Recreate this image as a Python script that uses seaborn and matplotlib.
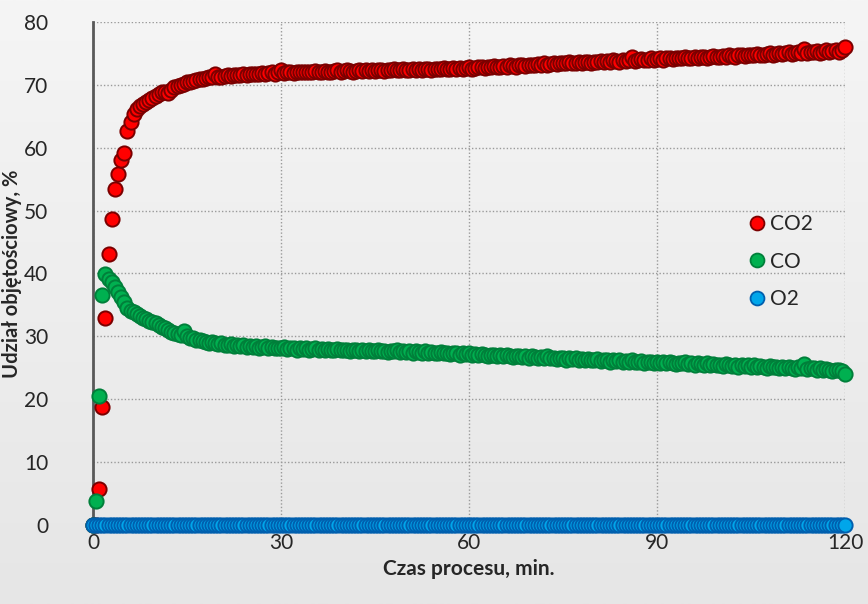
import numpy as np
import pandas as pd
import matplotlib.pyplot as plt
import seaborn as sns
from matplotlib.colors import LinearSegmentedColormap
from matplotlib.lines import Line2D

sns.set_style("white")
plt.rcParams['font.family'] = ['Lato', 'DejaVu Sans']

# czas pomiaru co 0.5 min
time_min = np.arange(0, 120.5, 0.5)

co2 = [
    0.0, 0.0, 5.7, 18.8, 33.0, 43.1, 48.6, 53.4, 55.8, 58.0,
    59.2, 62.6, 64.1, 65.4, 66.1, 66.6, 67.0, 67.3, 67.6, 67.9,
    68.2, 68.5, 68.9, 68.8, 68.7, 69.2, 69.6, 69.8, 70.0, 70.2,
    70.4, 70.5, 70.6, 70.8, 70.9, 71.0, 71.1, 71.2, 71.2, 71.7,
    71.3, 71.3, 71.4, 71.5, 71.4, 71.6, 71.5, 71.6, 71.7, 71.6,
    71.7, 71.8, 71.7, 71.8, 71.9, 71.8, 71.9, 72.0, 71.8, 72.1,
    72.4, 71.9, 72.0, 72.1, 71.9, 72.0, 72.1, 72.0, 72.1, 72.0,
    72.1, 72.2, 72.0, 72.1, 72.2, 72.1, 72.0, 72.2, 72.3, 72.1,
    72.2, 72.3, 72.2, 72.1, 72.2, 72.3, 72.2, 72.4, 72.2, 72.3,
    72.2, 72.4, 72.3, 72.2, 72.4, 72.3, 72.5, 72.3, 72.4, 72.5,
    72.3, 72.4, 72.6, 72.4, 72.5, 72.4, 72.6, 72.5, 72.4, 72.6,
    72.5, 72.6, 72.7, 72.5, 72.6, 72.7, 72.5, 72.7, 72.6, 72.7,
    72.8, 72.6, 72.7, 72.9, 72.8, 72.7, 72.9, 72.8, 73.0, 72.8,
    72.9, 73.0, 72.9, 73.1, 73.0, 72.9, 73.1, 73.2, 73.0, 73.1,
    73.2, 73.1, 73.3, 73.2, 73.4, 73.2, 73.3, 73.5, 73.3, 73.4,
    73.5, 73.4, 73.6, 73.5, 73.4, 73.6, 73.5, 73.7, 73.6, 73.5,
    73.7, 73.6, 73.8, 73.7, 73.8, 73.6, 73.9, 73.8, 73.7, 73.9,
    73.8, 74.0, 74.5, 73.8, 74.0, 74.1, 73.9, 74.0, 74.2, 74.0,
    74.1, 74.2, 74.0, 74.2, 74.3, 74.1, 74.2, 74.3, 74.2, 74.4,
    74.3, 74.2, 74.4, 74.3, 74.5, 74.4, 74.3, 74.5, 74.6, 74.4,
    74.5, 74.6, 74.5, 74.7, 74.6, 74.5, 74.7, 74.8, 74.6, 74.7,
    74.8, 74.7, 74.9, 74.8, 74.7, 74.9, 75.0, 74.8, 74.9, 75.1,
    74.9, 75.0, 75.2, 74.9, 75.1, 75.3, 75.0, 75.7, 75.1, 75.3,
    75.2, 75.4, 75.1, 75.3, 75.5, 75.2, 75.4, 75.6, 75.3, 75.5,
    76.0,
]

co = [
    0.0, 3.8, 20.5, 36.5, 39.9, 39.2, 38.6, 37.9, 37.1, 36.3,
    35.5, 34.5, 34.1, 33.9, 33.6, 33.2, 32.9, 32.7, 32.5, 32.3,
    32.2, 31.8, 31.5, 31.3, 31.0, 30.7, 30.6, 30.4, 30.2, 30.9,
    30.0, 29.8, 29.7, 29.5, 29.4, 29.3, 29.1, 29.0, 29.1, 28.9,
    28.8, 28.9, 28.7, 28.6, 28.8, 28.5, 28.6, 28.4, 28.6, 28.3,
    28.4, 28.3, 28.5, 28.2, 28.3, 28.4, 28.2, 28.3, 28.1, 28.2,
    28.1, 28.3, 28.0, 28.2, 28.1, 27.9, 28.2, 28.0, 28.1, 27.9,
    28.0, 28.1, 27.9, 28.0, 27.8, 28.0, 27.9, 27.8, 28.0, 27.9,
    27.8, 27.9, 27.7, 27.9, 27.8, 27.6, 27.8, 27.7, 27.9, 27.6,
    27.7, 27.8, 27.6, 27.7, 27.5, 27.7, 27.6, 27.8, 27.5, 27.6,
    27.5, 27.7, 27.4, 27.6, 27.5, 27.3, 27.6, 27.4, 27.5, 27.3,
    27.4, 27.5, 27.3, 27.4, 27.2, 27.4, 27.3, 27.1, 27.3, 27.2,
    27.3, 27.1, 27.2, 27.0, 27.2, 27.1, 26.9, 27.1, 27.0, 26.9,
    27.0, 26.8, 27.0, 26.9, 26.7, 26.9, 26.8, 26.7, 26.9, 26.6,
    26.8, 26.7, 26.5, 26.7, 26.6, 26.8, 26.5, 26.6, 26.4, 26.6,
    26.5, 26.3, 26.6, 26.4, 26.5, 26.3, 26.4, 26.2, 26.4, 26.3,
    26.2, 26.4, 26.1, 26.3, 26.2, 26.0, 26.3, 26.1, 26.2, 26.0,
    26.1, 25.9, 26.2, 26.0, 25.9, 26.1, 25.8, 26.0, 25.9, 25.7,
    25.9, 25.8, 26.0, 25.7, 25.9, 25.8, 25.6, 25.8, 25.7, 25.9,
    25.6, 25.8, 25.5, 25.7, 25.6, 25.4, 25.7, 25.5, 25.6, 25.4,
    25.5, 25.3, 25.6, 25.4, 25.3, 25.5, 25.2, 25.4, 25.3, 25.5,
    25.2, 25.4, 25.1, 25.3, 25.2, 25.0, 25.3, 25.1, 25.2, 25.0,
    25.1, 24.9, 25.2, 25.0, 24.8, 25.1, 24.9, 25.6, 24.8, 25.0,
    24.9, 24.7, 24.9, 24.6, 24.8, 24.7, 24.5, 24.7, 24.6, 24.5,
    24.0,
]

# tlen przez caly proces na zerze
o2 = [0.0] * len(time_min)

labels = ["CO2", "CO", "O2"]
faces = ["#ff0000", "#00b050", "#00a6ea"]
edges = ["#7a0000", "#007f3a", "#005fae"]

df = pd.DataFrame({"czas": time_min, "CO2": co2, "CO": co, "O2": o2})

fig = plt.figure(figsize=(8.68, 6.04), dpi=100)

# tlo z lekkim gradientem jak w Excelu
bg = fig.add_axes([0, 0, 1, 1], zorder=-10)
grad = np.linspace(0, 1, 256).reshape(-1, 1)
bg.imshow(grad, aspect="auto", extent=[0, 1, 0, 1],
          cmap=LinearSegmentedColormap.from_list("bg", ["#f5f5f5", "#e6e6e6"]))
bg.axis("off")

ax = fig.add_axes([0.1071, 0.1308, 0.8664, 0.8328])
ax.set_facecolor("none")

for col, fc, ec in zip(labels, faces, edges):
    sns.scatterplot(data=df, x="czas", y=col, ax=ax, color=fc, edgecolor=ec,
                    linewidth=1.4, s=105, clip_on=False, zorder=3)

ax.set_xlim(0, 120)
ax.set_ylim(0, 80)
ax.set_xticks([0, 30, 60, 90, 120])
ax.set_yticks(range(0, 81, 10))
ax.set_axisbelow(True)
ax.grid(True, linestyle=(0, (1, 1.5)), color="#9a9a9a", linewidth=1)

for s in ["top", "right"]:
    ax.spines[s].set_visible(False)
for s in ["left", "bottom"]:
    ax.spines[s].set_color("#595959")
    ax.spines[s].set_linewidth(2)

ax.tick_params(axis="y", direction="out", length=7, width=2, color="#595959",
               labelsize=15, pad=25)
ax.tick_params(axis="x", length=0, labelsize=15, pad=6)

ax.set_xlabel("Czas procesu, min.", fontsize=15, fontweight="bold", labelpad=4)
ax.set_ylabel("Udział objętościowy, %", fontsize=14.5, fontweight="bold")
ax.yaxis.set_label_coords(-0.094, 0.5)

handles = [Line2D([], [], marker="o", linestyle="", markersize=10,
                  markerfacecolor=fc, markeredgecolor=ec, markeredgewidth=1.3)
           for fc, ec in zip(faces, edges)]
ax.legend(handles, labels, loc="center left", bbox_to_anchor=(0.842, 0.567),
          bbox_transform=fig.transFigure, frameon=False, fontsize=15,
          handlelength=0.7, handletextpad=0.3, labelspacing=0.85)

fig.savefig("out.png", dpi=100)
